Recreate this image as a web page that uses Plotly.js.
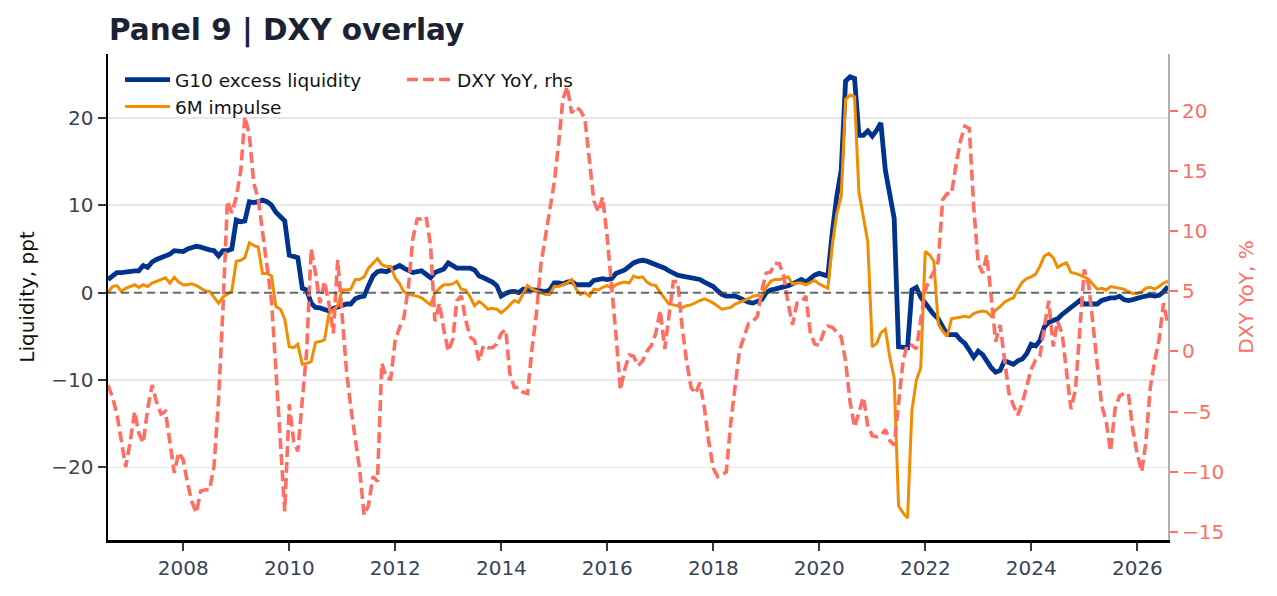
<!DOCTYPE html>
<html>
<head>
<meta charset="utf-8">
<script src="https://cdn.plot.ly/plotly-3.0.1.min.js"></script>
<style>
  html, body { margin: 0; padding: 0; background: #ffffff; }
  #chart { width: 1277px; height: 596px; }
</style>
</head>
<body>
<div id="chart"></div>
<script>
// Monthly observations, month-end, Jul 2006 .. Jul 2026 (241 points)
const startYear = 2006;
const startMonth = 6; // July (0-based)
const nMonths = 241;

// G10 excess liquidity, ppt (left axis)
const liquidity = [
  1.5, 2.0, 2.3, 2.3, 2.4, 2.4, 2.5, 2.5, 3.1, 2.9,
  3.5, 3.8, 4.0, 4.2, 4.4, 4.8, 4.7, 4.7, 5.0, 5.2,
  5.3, 5.2, 5.0, 4.9, 4.8, 4.2, 4.8, 4.8, 5.0, 8.3,
  8.1, 8.2, 10.4, 10.3, 10.4, 10.6, 10.4, 10.0, 9.2, 8.7,
  8.2, 4.3, 4.2, 4.0, 0.5, 0.3, -1.2, -1.7, -1.75, -1.9,
  -2.1, -1.8, -1.6, -1.4, -1.3, -1.3, -0.7, -0.5, -0.4, 0.8,
  1.9, 2.4, 2.5, 2.4, 2.6, 2.8, 3.1, 2.8, 2.6, 2.3,
  2.4, 2.5, 2.1, 1.7, 2.3, 2.5, 2.7, 3.4, 3.0, 2.8,
  2.8, 2.8, 2.8, 2.6, 1.9, 1.7, 1.5, 1.2, 0.8, -0.4,
  -0.1, 0.1, 0.15, 0.0, 0.4, 0.4, 0.3, 0.3, 0.2, 0.1,
  0.3, 1.1, 1.1, 1.0, 1.2, 1.3, 0.9, 0.9, 1.0, 0.9,
  1.4, 1.5, 1.6, 1.5, 1.6, 2.2, 2.4, 2.6, 3.0, 3.4,
  3.6, 3.7, 3.6, 3.4, 3.3, 3.0, 2.8, 2.5, 2.2, 2.0,
  1.9, 1.8, 1.7, 1.6, 1.5, 1.2, 1.0, 0.7, 0.2, -0.2,
  -0.4, -0.4, -0.4, -0.6, -0.9, -1.1, -1.2, -1.0, -0.8, 0.0,
  0.3, 0.4, 0.5, 0.7, 0.8, 1.0, 1.2, 1.5, 1.2, 1.6,
  2.0, 2.2, 2.1, 1.9, 7.0, 11.0, 14.0, 24.2, 24.7, 24.5,
  18.0, 18.0, 18.5, 17.9, 18.6, 19.4, 14.0, 11.0, 8.5, -6.2,
  -6.3, -6.3, 0.3, 0.6, -0.5, -1.3, -1.9, -2.5, -3.0, -3.9,
  -4.8, -4.8, -4.8, -5.4, -5.8, -6.6, -7.4, -6.7, -7.1, -7.8,
  -8.6, -9.1, -8.9, -7.8, -8.0, -8.2, -7.8, -7.6, -7.0, -5.9,
  -6.1, -5.5, -3.9, -3.4, -3.2, -3.0, -2.5, -2.1, -1.7, -1.3,
  -0.9, -1.3, -1.3, -1.2, -1.3, -0.9, -0.7, -0.6, -0.6, -0.4,
  -0.8, -0.9, -0.8, -0.6, -0.5, -0.4, -0.3, -0.4, -0.3, 0.1,
  0.7
];

// 6M impulse, ppt (left axis)
const impulse = [
  0.0, 0.7, 0.8, 0.15, 0.5, 0.7, 0.9, 0.6, 0.9, 0.7,
  1.1, 1.3, 1.5, 1.7, 1.1, 1.75, 1.2, 0.9, 0.9, 1.0,
  0.8, 0.5, 0.2, 0.15, -0.5, -1.2, -0.5, -0.2, 0.15, 3.6,
  3.7, 4.0, 5.7, 5.4, 5.2, 2.2, 2.2, 1.9, -1.6, -1.9,
  -3.0, -6.2, -6.3, -5.9, -8.2, -8.1, -7.9, -5.7, -5.6, -5.4,
  -2.5, -2.0, -1.5, 0.3, 0.3, 0.4, 1.5, 1.5, 1.8, 2.8,
  3.4, 3.9, 3.2, 3.0, 3.0, 1.7, 1.0, 0.1, -0.2, -0.3,
  -0.4, -0.6, -1.0, -1.4, -0.1, 0.5, 0.9, 0.9, 1.0, 1.3,
  0.4, 0.3, -0.5, -1.5, -1.0, -1.4, -1.9, -1.8, -1.9, -2.3,
  -1.9, -1.4, -0.9, -1.1, -0.2, 0.8, 0.4, 0.2, 0.0, -0.2,
  -0.2, 0.7, 0.7, 0.9, 1.1, 1.5, 0.4, -0.2, 0.0, -0.4,
  0.4, 0.3, 0.6, 0.8, 0.5, 0.9, 1.1, 1.2, 1.1, 1.9,
  1.7, 1.8, 1.2, 0.9, 0.8, 0.0, -0.7, -1.3, -1.4, -1.5,
  -1.75, -1.5, -1.4, -1.1, -0.9, -0.7, -0.9, -1.2, -1.6, -1.9,
  -1.8, -1.7, -1.3, -1.1, -0.9, -0.7, -0.4, -0.3, -0.4, 0.6,
  1.3, 1.5, 1.5, 1.6, 1.8, 1.0, 1.1, 1.1, 0.9, 1.2,
  1.4, 1.0, 0.7, 0.5, 5.5, 9.0, 11.0, 22.1, 22.6, 22.4,
  11.5, 8.5, 5.8, -6.2, -5.8, -4.6, -4.2, -7.3, -9.8, -24.4,
  -25.2, -25.8, -13.5, -10.0, -8.6, 4.7, 4.3, 3.6, -3.6, -4.4,
  -5.0, -3.0, -2.9, -2.8, -2.7, -2.8, -2.4, -2.2, -2.1, -2.2,
  -2.7, -2.0, -1.6, -1.1, -0.8, -0.6, 0.4, 1.2, 1.6, 1.8,
  2.1, 3.0, 4.2, 4.5, 4.0, 2.9, 3.2, 3.4, 2.3, 2.2,
  2.0, 1.8, 1.5, 1.0, 0.4, 0.5, 0.3, 0.7, 0.6, 0.5,
  0.4, 0.1, -0.1, -0.1, 0.1, 0.5, 0.6, 0.4, 0.7, 1.1,
  1.3
];

// DXY YoY, % (right axis)
const dxyYoY = [
  -2.8, -3.8, -5.2, -7.5, -9.6, -7.5, -5.0, -6.8, -7.6, -4.8,
  -2.8, -4.2, -5.2, -5.0, -7.6, -10.1, -8.4, -9.0, -11.0, -12.5,
  -13.4, -11.6, -11.5, -11.5, -9.5, -4.0, 3.5, 12.5, 11.5, 12.8,
  15.0, 19.5, 18.0, 14.0, 12.7, 10.0, 7.0, 4.2, -1.5, -7.5,
  -13.3, -4.4, -7.5, -8.3, -4.2, 0.0, 8.5, 6.5, 4.0, 5.8,
  4.0, 1.5, 7.6, 3.0, -1.8, -4.6, -7.0, -9.8, -13.6, -12.8,
  -10.4, -10.8, -1.0, -2.2, -2.3, 0.9, 2.0, 2.8, 5.3, 9.3,
  11.0, 11.0, 11.2, 8.8, 2.5, 4.0, 1.8, 0.0, 1.0, 4.2,
  4.6, 2.6, 1.2, 0.9, -0.8, 0.5, 0.3, 0.3, 0.6, 1.5,
  1.8, -1.8, -3.0, -3.0, -3.4, -3.5, 0.2, 3.2, 7.2, 9.4,
  11.8, 14.0, 17.3, 20.9, 22.0, 19.8, 20.3, 20.0, 19.3, 15.5,
  12.5, 11.6, 12.8, 9.5, 5.5, 1.5, -3.2, -1.5, -0.3, -0.4,
  -1.2, -0.8, 0.0, 0.5, 1.5, 3.4, 0.2, 3.0, 5.8, 5.8,
  2.0, -0.8, -3.0, -3.5, -2.6, -4.7, -7.5, -9.7, -10.4, -10.3,
  -10.0, -6.0, -3.0, 0.1, 1.2, 2.3, 2.5, 2.9, 5.0, 6.5,
  6.6, 7.3, 7.3, 6.3, 4.0, 2.2, 4.0, 4.1, 4.6, 1.6,
  0.6, 0.5, 1.6, 2.1, 2.0, 1.6, 1.2, -0.8, -4.2, -6.3,
  -5.0, -3.8, -6.2, -7.0, -7.1, -7.0, -6.5, -7.4, -7.8, -4.2,
  -0.8, 0.6, 0.5, 0.2, 2.4, 5.1, 6.0, 6.6, 7.5, 12.6,
  13.1, 13.1, 15.5, 17.5, 18.7, 18.5, 12.0, 7.3, 6.5, 8.0,
  4.5, 0.8, 2.2, -0.5, -3.5, -4.5, -5.3, -4.3, -3.0, -1.5,
  -0.7, -0.4, 2.0, 4.2, 0.4, 2.5, 1.5, -1.5, -4.8, -3.2,
  1.8, 6.8, 5.5, 2.4, -0.5, -4.5, -5.8, -8.3, -4.8, -3.7,
  -3.5, -3.5, -6.5, -8.5, -10.0, -7.6, -3.0, -0.8, 1.0, 4.0,
  2.2
];

const xTickYears = ["2008", "2010", "2012", "2014", "2016", "2018", "2020", "2022", "2024", "2026"];
const leftTicks = [-20, -10, 0, 10, 20];
const rightTicks = [-15, -10, -5, 0, 5, 10, 15, 20];

function pad2(n) { return (n < 10 ? "0" : "") + n; }
const dates = [];
for (let k = 0; k < nMonths; k++) {
  const mm = startMonth + k;
  const y = startYear + Math.floor(mm / 12);
  const m = mm % 12;
  const last = new Date(Date.UTC(y, m + 1, 0)).getUTCDate();
  dates.push(y + "-" + pad2(m + 1) + "-" + pad2(last));
}

const FONT = "DejaVu Sans";
const BLUE = "#00338d";
const ORANGE = "#f28c00";
const SALMON = "#ff6e63";
const TICKTXT = "#3a4255";

const traces = [
  {
    x: dates, y: liquidity, type: "scatter", mode: "lines",
    name: "G10 excess liquidity",
    line: { color: BLUE, width: 4.8 },
    legend: "legend", yaxis: "y"
  },
  {
    x: dates, y: impulse, type: "scatter", mode: "lines",
    name: "6M impulse",
    line: { color: ORANGE, width: 3 },
    legend: "legend", yaxis: "y"
  },
  {
    x: dates, y: dxyYoY, type: "scatter", mode: "lines",
    name: "DXY YoY, rhs",
    line: { color: SALMON, width: 3.6, dash: "11px,5px" },
    legend: "legend2", yaxis: "y2"
  }
];

const layout = {
  width: 1277, height: 596,
  margin: { l: 108, r: 109, t: 54, b: 56, pad: 0 },
  paper_bgcolor: "#ffffff",
  plot_bgcolor: "#ffffff",
  font: { family: FONT, size: 18, color: "#111111" },
  title: {
    text: "<b>Panel 9 | DXY overlay</b>",
    font: { family: FONT, size: 29.5, color: "#1b2233" },
    xref: "container", x: 109 / 1277, xanchor: "left",
    yref: "container", y: 1 - 30 / 596, yanchor: "middle",
    pad: { l: 0, r: 0, t: 0, b: 0 }
  },
  showlegend: true,
  legend: {
    x: 12 / 1060, xanchor: "left", y: 1 - 7 / 486, yanchor: "top",
    orientation: "v", bgcolor: "rgba(0,0,0,0)", borderwidth: 0,
    font: { family: FONT, size: 18.5, color: "#111111" },
    itemwidth: 45, traceorder: "normal"
  },
  legend2: {
    x: 294 / 1060, xanchor: "left", y: 1 - 7 / 486, yanchor: "top",
    orientation: "v", bgcolor: "rgba(0,0,0,0)", borderwidth: 0,
    font: { family: FONT, size: 18.5, color: "#111111" },
    itemwidth: 45
  },
  xaxis: {
    type: "date",
    range: [dates[0], dates[dates.length - 1]],
    tickmode: "array",
    tickvals: xTickYears.map(function (y) { return y + "-01-01"; }),
    ticktext: xTickYears,
    tickfont: { family: FONT, size: 20, color: TICKTXT },
    ticks: "outside", ticklen: 8, tickwidth: 2, tickcolor: "#2d3748",
    showline: true, linecolor: "#000000", linewidth: 2.5,
    showgrid: false, zeroline: false, mirror: false, fixedrange: true
  },
  yaxis: {
    range: [-28.3, 27.3],
    tickmode: "array",
    tickvals: leftTicks,
    ticktext: leftTicks.map(function (v) { return v < 0 ? "\u2212" + Math.abs(v) : String(v); }),
    tickfont: { family: FONT, size: 20, color: TICKTXT },
    ticks: "outside", ticklen: 8, tickwidth: 2, tickcolor: "#2d3748",
    showline: true, linecolor: "#000000", linewidth: 2.5,
    showgrid: true, gridcolor: "#e8e8e8", gridwidth: 1.5,
    zeroline: false,
    title: { text: "Liquidity, ppt", font: { family: FONT, size: 20, color: "#111111" }, standoff: 12 }
  },
  yaxis2: {
    overlaying: "y", side: "right", anchor: "x",
    range: [-15.67, 24.7],
    tickmode: "array",
    tickvals: rightTicks,
    ticktext: rightTicks.map(function (v) { return v < 0 ? "\u2212" + Math.abs(v) : String(v); }),
    tickfont: { family: FONT, size: 20, color: SALMON },
    ticks: "outside", ticklen: 8, tickwidth: 2, tickcolor: SALMON,
    showline: true, linecolor: "#b0b0b0", linewidth: 2,
    showgrid: false, zeroline: false,
    title: { text: "DXY YoY, %", font: { family: FONT, size: 20, color: SALMON }, standoff: 16 }
  },
  shapes: [
    {
      type: "line", xref: "paper", x0: 0, x1: 1, yref: "y", y0: 0, y1: 0,
      line: { color: "rgba(70,70,70,0.8)", width: 2, dash: "8px,5px" },
      layer: "above"
    }
  ]
};

Plotly.newPlot("chart", traces, layout, { displayModeBar: false, staticPlot: true });
</script>
</body>
</html>
